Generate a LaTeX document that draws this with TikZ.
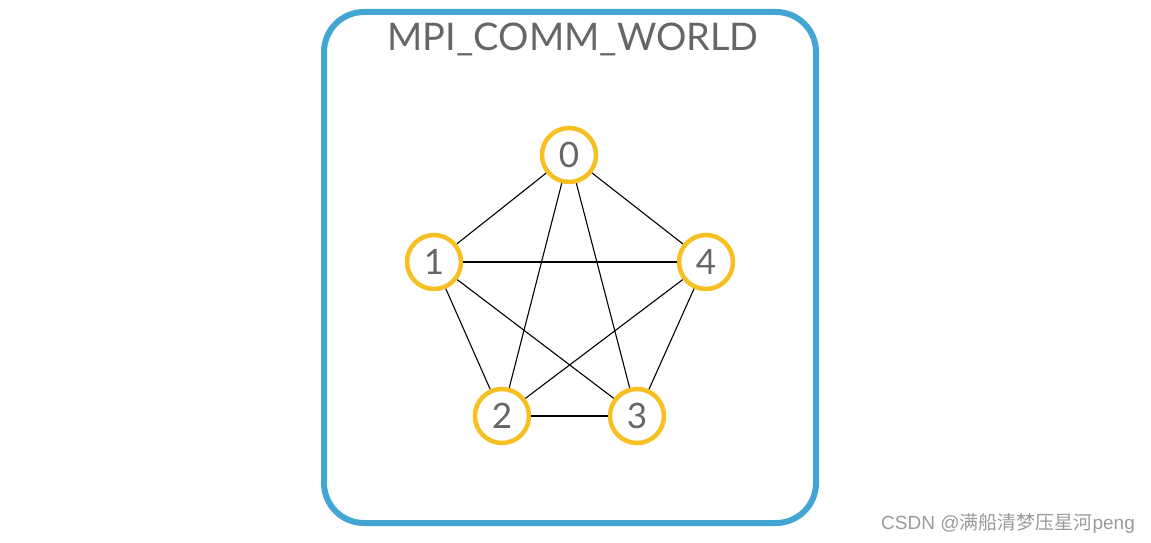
\documentclass[tikz,border=0pt]{standalone}
\usepackage{fontspec}
\setmainfont{Lato}
\newfontfamily\cjk{Noto Sans CJK SC}
\newfontfamily\marksans{Liberation Sans}
\definecolor{worldblue}{HTML}{42A5D3}
\definecolor{rankyellow}{HTML}{F6C022}
\definecolor{textgrey}{HTML}{666666}
\definecolor{markgrey}{HTML}{9A9A9A}
\begin{document}
\begin{tikzpicture}[x=1pt, y=-1pt,
    rank/.style={circle, draw=rankyellow, line width=4.5pt, fill=white,
      minimum size=54pt, inner sep=0pt, text=textgrey,
      font=\fontsize{35}{40}\selectfont},
    link/.style={black, line width=1.1pt}]
  \useasboundingbox (0,0) rectangle (1151,543);
  \draw[worldblue, line width=6pt, rounded corners=40pt] (324,12) rectangle (816,523);
  \node[text=textgrey, font=\fontsize{38}{46}\selectfont] (title) at (573,39) {MPI\_COMM\_WORLD};
  \node[rank] (r0) at (569,155) {0};
  \node[rank] (r1) at (434,262) {1};
  \node[rank] (r4) at (706,262) {4};
  \node[rank] (r2) at (502,416) {2};
  \node[rank] (r3) at (637,416) {3};
  \foreach \a/\b in {0/1,0/2,0/3,0/4,1/2,1/3,1/4,2/3,2/4,3/4}
    \draw[link] (r\a) -- (r\b);
  \node[text=markgrey, font=\fontsize{19}{22}\selectfont] (mark) at (1008,523)
    {{\marksans CSDN @}{\cjk 满船清梦压星河}{\marksans peng}};
\end{tikzpicture}
\end{document}
